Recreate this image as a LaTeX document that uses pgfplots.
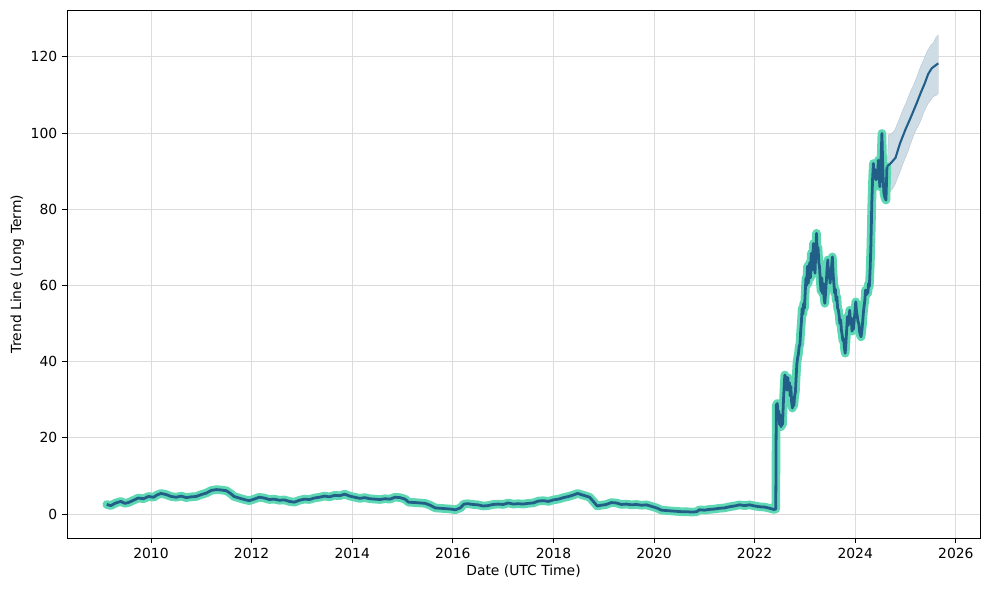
\documentclass[border=0pt]{standalone}
\usepackage{pgfplots}
\pgfplotsset{compat=1.18}
\usepackage{fontspec}
\setmainfont{DejaVu Sans}
\definecolor{trendgreen}{RGB}{94,216,180}
\definecolor{trendblue}{RGB}{33,94,136}
\definecolor{bandblue}{RGB}{206,220,230}
\definecolor{gridgray}{RGB}{220,220,220}
\begin{document}
\begin{tikzpicture}
\path[use as bounding box] (-48.24pt,-37.44pt) rectangle (663.84pt,387.36pt);
\begin{axis}[
  at={(0,0)}, anchor=south west,
  scale only axis, width=657.36pt, height=380.16pt,
  xmin=2008.33, xmax=2026.48, ymin=-6.3, ymax=132.3,
  xtick={2010,2012,...,2026}, ytick={0,20,...,120},
  /pgf/number format/1000 sep={},
  /pgf/number format/assume math mode=true,
  tick label style={font=\fontsize{10}{12}\selectfont},
  label style={font=\fontsize{10}{12}\selectfont},
  xlabel={Date (UTC Time)}, ylabel={Trend Line (Long Term)},
  xlabel style={yshift=2pt}, ylabel style={yshift=-2pt},
  tick pos=left, tick align=outside,
  major tick length=3.5pt,
  every tick/.style={black, line width=0.6pt},
  grid=major, grid style={gridgray, line width=0.7pt},
  axis line style={line width=0.6pt},
]
\addplot[fill=bandblue, draw=bandblue!90!black, line width=0.3pt] coordinates {
(2024.64,92) (2024.66,99.5) (2024.72,99.8) (2024.78,100.6) (2024.84,102.5) (2024.9,104.5) (2024.96,106.5) (2025.02,108.2) (2025.1,111) (2025.16,112.6) (2025.22,114.6) (2025.3,117.5) (2025.36,119.2) (2025.42,121.2) (2025.5,123) (2025.56,123.8) (2025.6,125) (2025.65,125.7)
(2025.65,110.4) (2025.6,109.8) (2025.55,109.6) (2025.5,108.6) (2025.45,107.8) (2025.4,106.5) (2025.35,105) (2025.3,103.2) (2025.25,101.8) (2025.2,100.6) (2025.15,99) (2025.1,97.2) (2025.05,95.2) (2025.0,93.6) (2024.95,92) (2024.9,90.2) (2024.85,88.5) (2024.8,86.8) (2024.75,85.5) (2024.7,84.8) (2024.66,84.5)
} -- cycle;
\pgfplotstableread{
x y
2009.12 2.5
2009.2 2.2
2009.3 2.9
2009.4 3.3
2009.48 2.8
2009.55 3.0
2009.65 3.6
2009.75 4.2
2009.85 4.0
2009.95 4.6
2010.05 4.4
2010.12 5.0
2010.2 5.4
2010.3 5.1
2010.4 4.6
2010.5 4.4
2010.6 4.7
2010.7 4.3
2010.8 4.5
2010.9 4.6
2011.0 5.1
2011.1 5.5
2011.2 6.2
2011.3 6.4
2011.4 6.3
2011.5 6.1
2011.58 5.4
2011.65 4.6
2011.75 4.2
2011.85 3.8
2011.95 3.5
2012.05 3.9
2012.15 4.4
2012.25 4.2
2012.35 3.8
2012.45 3.9
2012.55 3.6
2012.65 3.7
2012.75 3.3
2012.85 3.1
2012.95 3.6
2013.05 3.9
2013.15 3.8
2013.25 4.2
2013.35 4.4
2013.45 4.7
2013.55 4.5
2013.65 4.9
2013.75 4.8
2013.85 5.2
2013.95 4.7
2014.05 4.4
2014.15 4.1
2014.25 4.3
2014.35 4.0
2014.45 3.9
2014.55 3.8
2014.65 4.0
2014.75 3.9
2014.85 4.4
2014.95 4.3
2015.05 3.9
2015.12 3.1
2015.25 3.0
2015.35 2.9
2015.45 2.8
2015.55 2.3
2015.65 1.6
2015.75 1.5
2015.85 1.4
2015.95 1.3
2016.05 1.1
2016.15 1.6
2016.22 2.6
2016.3 2.7
2016.4 2.5
2016.5 2.4
2016.6 2.1
2016.7 2.2
2016.8 2.5
2016.9 2.6
2017.0 2.5
2017.1 2.9
2017.2 2.6
2017.3 2.7
2017.4 2.6
2017.5 2.8
2017.6 2.9
2017.7 3.4
2017.8 3.5
2017.9 3.3
2018.0 3.7
2018.1 3.9
2018.2 4.3
2018.3 4.6
2018.4 5.0
2018.48 5.4
2018.55 5.1
2018.65 4.7
2018.72 4.4
2018.8 3.2
2018.87 2.1
2018.95 2.3
2019.05 2.5
2019.15 3.0
2019.25 2.9
2019.35 2.5
2019.45 2.6
2019.55 2.4
2019.65 2.5
2019.75 2.3
2019.85 2.4
2019.95 2.0
2020.05 1.6
2020.15 1.0
2020.25 0.9
2020.35 0.8
2020.45 0.7
2020.55 0.6
2020.65 0.6
2020.75 0.5
2020.85 0.6
2020.9 1.1
2021.0 1.0
2021.1 1.2
2021.2 1.3
2021.3 1.5
2021.4 1.6
2021.5 1.9
2021.6 2.1
2021.7 2.4
2021.8 2.2
2021.9 2.4
2022.0 2.1
2022.1 1.9
2022.2 1.8
2022.3 1.5
2022.38 1.2
2022.42 1.3
2022.43 28.6
2022.45 29.0
2022.465 25.5
2022.48 27.0
2022.495 23.5
2022.51 26.0
2022.525 22.9
2022.54 24.5
2022.555 23.5
2022.57 29.0
2022.585 33.0
2022.6 36.5
2022.615 34.0
2022.63 36.0
2022.645 32.5
2022.66 35.8
2022.675 33.0
2022.69 34.5
2022.705 31.0
2022.72 33.5
2022.735 29.5
2022.75 27.8
2022.765 29.5
2022.78 28.5
2022.795 31.0
2022.81 32.0
2022.825 36.0
2022.84 39.5
2022.855 41.0
2022.87 42.0
2022.885 44.0
2022.9 44.5
2022.915 48.0
2022.93 50.5
2022.945 54.0
2022.96 52.5
2022.975 55.3
2022.99 54.0
2023.005 58.0
2023.02 62.0
2023.035 60.0
2023.05 65.0
2023.065 60.6
2023.08 63.0
2023.095 66.0
2023.11 62.0
2023.125 68.4
2023.14 64.0
2023.155 67.5
2023.17 71.0
2023.185 66.0
2023.2 63.2
2023.215 69.0
2023.23 73.7
2023.245 68.0
2023.26 70.0
2023.275 66.0
2023.29 64.9
2023.305 61.0
2023.32 58.5
2023.335 62.0
2023.35 57.9
2023.365 60.5
2023.38 57.0
2023.395 55.3
2023.41 58.0
2023.425 61.0
2023.44 64.5
2023.455 66.7
2023.47 62.0
2023.485 64.0
2023.5 60.6
2023.515 63.0
2023.53 65.0
2023.545 67.5
2023.56 63.0
2023.575 60.5
2023.59 58.0
2023.605 59.0
2023.62 56.0
2023.635 57.0
2023.65 54.0
2023.665 53.5
2023.68 52.0
2023.695 50.0
2023.71 51.0
2023.725 48.3
2023.74 47.0
2023.755 45.5
2023.77 46.0
2023.785 43.5
2023.8 42.2
2023.815 45.0
2023.83 48.5
2023.845 51.8
2023.86 49.5
2023.875 51.0
2023.89 53.5
2023.905 50.0
2023.92 51.5
2023.935 48.0
2023.95 49.5
2023.965 48.5
2023.98 51.0
2023.995 53.0
2024.01 55.7
2024.025 53.0
2024.04 52.0
2024.055 50.5
2024.07 50.0
2024.085 48.0
2024.1 47.0
2024.115 46.5
2024.13 48.0
2024.145 50.0
2024.16 52.7
2024.175 54.5
2024.19 56.0
2024.205 58.8
2024.22 57.5
2024.235 58.5
2024.25 58.0
2024.265 60.5
2024.28 59.7
2024.295 64.0
2024.31 70.0
2024.32 76.0
2024.33 82.0
2024.345 88.0
2024.36 92.0
2024.375 89.0
2024.39 90.5
2024.41 87.7
2024.425 90.0
2024.44 88.0
2024.46 92.9
2024.475 88.5
2024.49 85.9
2024.505 90.0
2024.52 96.0
2024.53 99.9
2024.545 92.0
2024.555 88.0
2024.57 84.2
2024.59 83.0
2024.61 82.4
2024.62 86.5
2024.63 91.2
}\hist
\addplot[trendgreen, line width=6.2pt, line join=round, line cap=round] table {\hist};
\addplot[trendblue, line width=2.0pt, line join=round] table {\hist};
\addplot[trendblue, line width=1.5pt] coordinates {
(2024.63,91.2) (2024.7,92.0) (2024.8,93.5) (2024.89,97.3) (2025.0,101.0) (2025.1,104.0) (2025.22,107.8) (2025.3,110.5) (2025.38,113.0) (2025.45,115.5) (2025.52,117.0) (2025.6,117.8) (2025.65,118.3)
};
\end{axis}
\end{tikzpicture}
\end{document}
